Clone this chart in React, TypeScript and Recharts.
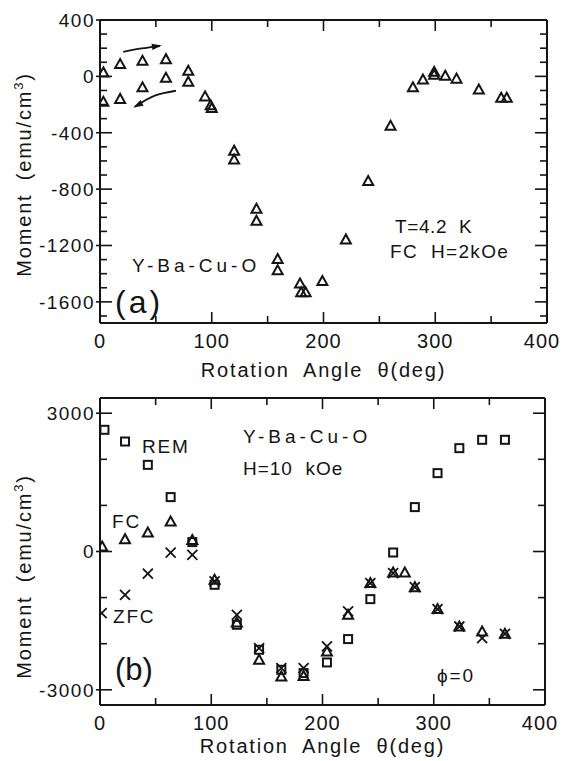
import React from 'react';
import { ComposedChart, Scatter, Line, XAxis, YAxis } from 'recharts';

const FONT = '"Liberation Sans", Arial, Helvetica, sans-serif';
const INK = '#141414';

// ---------- shared axis ticks ----------
const xTicks = [0, 50, 100, 150, 200, 250, 300, 350, 400];
const xLabels = [0, 100, 200, 300, 400];

// ---------- panel (a): FC, H=2kOe, T=4.2K ----------
const aAngle = [3, 3, 18, 18, 38, 38, 59, 59, 79, 79, 94, 99, 100, 120, 120, 140, 140, 159, 159, 179, 180, 184, 199, 220, 240, 260, 280, 289, 299, 299, 309, 319, 339, 359, 364];
const aMoment = [28, -180, 87, -160, 110, -78, 122, -10, 40, -38, -142, -205, -225, -527, -590, -940, -1025, -1296, -1376, -1470, -1532, -1532, -1452, -1157, -742, -350, -78, -22, 32, 12, 4, -16, -93, -152, -152];
const aYTicks = [-1700, -1600, -1500, -1400, -1300, -1200, -1100, -1000, -900, -800, -700, -600, -500, -400, -300, -200, -100, 0, 100, 200, 300, 400];
const aYLabels = [400, 0, -400, -800, -1200, -1600];
const aYDomain = [-1750, 400];
// arrows (data coordinates)
const arrowUpAngle = [20.8, 37.2, 53.6];
const arrowUpMoment = [174, 198, 217];
const arrowDownAngle = [67.9, 49, 31.3];
const arrowDownMoment = [-102, -137, -215];

// annotations of panel (a), anchored in data coordinates
const aNoteText = ['Y-Ba-Cu-O', '(a)', 'T=4.2  K', 'FC  H=2kOe'];
const aNoteAngle = [28.6, 13.4, 264, 259.5];
const aNoteMoment = [-1388, -1680, -1112, -1289];

// ---------- panel (b): H=10 kOe, phi=0 ----------
const bAngle = [4, 22.5, 43, 63.5, 83, 103, 123, 143, 163, 183, 204, 223, 243, 263.5, 283, 303.4, 323, 343.5, 364];
const bREM = [2640, 2386, 1880, 1180, 204, -722, -1590, -2132, -2566, -2638, -2407, -1900, -1033, -22, 963, 1700, 2242, 2423, 2423];
const bFCAngle = [2, 22.5, 43, 63.5, 83, 103, 123, 143, 163, 183, 204, 223, 243, 263.5, 274, 283, 303.4, 323, 343.5, 364];
const bFC = [108, 268, 412, 651, 250, -614, -1540, -2350, -2711, -2700, -2169, -1373, -686, -455, -455, -773, -1250, -1627, -1735, -1785];
const bZFCAngle = [1.5, 22.5, 43, 63.5, 83, 103, 123, 143, 163, 183, 204, 223, 243, 263.5, 283, 303.4, 323, 343.5, 364];
const bZFC = [-1336, -939, -480, -22, -72, -650, -1373, -2096, -2530, -2530, -2060, -1300, -686, -470, -773, -1250, -1627, -1880, -1785];
const bYTicks = [-3000, -2000, -1000, 0, 1000, 2000, 3000];
const bYLabels = [3000, 0, -3000];
const bYDomain = [-3330, 3330];

const bNoteText = ['REM', 'Y-Ba-Cu-O', 'H=10  kOe', 'FC', 'ZFC', '(b)', 'ϕ=0'];
const bNoteAngle = [37.8, 128.5, 128.5, 10.8, 11.7, 13.5, 303];
const bNoteMoment = [2141, 2358, 1664, 514, -1547, -2783, -2826];

// text styles per annotation
const noteStyle: Record<string, { size: number; ls: number }> = {
  'Y-Ba-Cu-O': { size: 19, ls: 4 },
  '(a)': { size: 32, ls: 3 },
  '(b)': { size: 31, ls: 0 },
  'T=4.2  K': { size: 19, ls: 0.6 },
  'FC  H=2kOe': { size: 19, ls: 1.3 },
  'H=10  kOe': { size: 19, ls: 1 },
  REM: { size: 19, ls: 1.8 },
  FC: { size: 19, ls: 1.8 },
  ZFC: { size: 19, ls: 1.8 },
  'ϕ=0': { size: 19, ls: 1.8 },
};

const zip = (xs: number[], ys: number[]) => xs.map((x, i) => ({ x, y: ys[i] }));
const notes = (t: string[], xs: number[], ys: number[]) => t.map((text, i) => ({ x: xs[i], y: ys[i], text }));

// ---------- markers ----------
const Tri = (p: any) => {
  const { cx, cy } = p;
  if (cx == null || cy == null) return <g />;
  const s = 5;
  return (
    <polygon
      points={`${cx},${cy - s} ${cx - s},${cy + s * 0.8} ${cx + s},${cy + s * 0.8}`}
      fill="none"
      stroke={INK}
      strokeWidth={2}
    />
  );
};
const Sq = (p: any) => {
  const { cx, cy } = p;
  if (cx == null || cy == null) return <g />;
  const s = 4;
  return <rect x={cx - s} y={cy - s} width={2 * s} height={2 * s} fill="none" stroke={INK} strokeWidth={2} />;
};
const Cross = (p: any) => {
  const { cx, cy } = p;
  if (cx == null || cy == null) return <g />;
  const s = 5;
  return (
    <path d={`M${cx - s},${cy - s}L${cx + s},${cy + s}M${cx - s},${cy + s}L${cx + s},${cy - s}`} stroke={INK} strokeWidth={1.8} fill="none" />
  );
};
const Note = (p: any) => {
  const { cx, cy, payload } = p;
  if (cx == null || cy == null) return <g />;
  const st = noteStyle[payload.text] || { size: 19, ls: 1.5 };
  return (
    <text x={cx} y={cy} fill={INK} fontFamily={FONT} fontSize={st.size} letterSpacing={st.ls} style={{ whiteSpace: 'pre' }}>
      {payload.text}
    </text>
  );
};

const arrowDot = (dir: number, n: number) => (p: any) => {
  if (p.index !== n - 1) return <g key={p.index} />;
  return (
    <polygon key={p.index} points="2,0 -8,-3.2 -8,3.2" fill={INK} transform={`translate(${p.cx},${p.cy}) rotate(${dir})`} />
  );
};

// ---------- ticks ----------
const bottomTick = (labels: number[]) => (p: any) => {
  const v = p.payload.value;
  const major = labels.includes(v);
  const y = p.y - 1;
  const last = v === labels[labels.length - 1];
  return (
    <g>
      <line x1={p.x} x2={p.x} y1={y} y2={y - (major ? 10 : 6)} stroke={INK} strokeWidth={1.6} />
      {major && (
        <text x={p.x - (last ? 5 : 0)} y={y + 26} textAnchor="middle" fill={INK} fontFamily={FONT} fontSize={20} letterSpacing={1}>
          {v}
        </text>
      )}
    </g>
  );
};
const topTick = (labels: number[]) => (p: any) => {
  const major = labels.includes(p.payload.value);
  const y = p.y + 1;
  return <line x1={p.x} x2={p.x} y1={y} y2={y + (major ? 10 : 6)} stroke={INK} strokeWidth={1.6} />;
};
const leftTick = (labels: number[]) => (p: any) => {
  const v = p.payload.value;
  const major = labels.includes(v);
  return (
    <g>
      <line x1={p.x - (major ? 4 : 0)} x2={p.x + (major ? 12 : 7)} y1={p.y} y2={p.y} stroke={INK} strokeWidth={1.6} />
      {major && (
        <text x={p.x - 5} y={p.y + 6.8} textAnchor="end" fill={INK} fontFamily={FONT} fontSize={19} letterSpacing={1.5}>
          {v < 0 ? '-' + Math.abs(v) : v}
        </text>
      )}
    </g>
  );
};
const rightTick = (labels: number[]) => (p: any) => {
  const major = labels.includes(p.payload.value);
  return <line x1={p.x} x2={p.x - (major ? 12 : 7)} y1={p.y} y2={p.y} stroke={INK} strokeWidth={1.6} />;
};

const xTitle = (drop: number) => (props: any) => {
  const vb = props.viewBox;
  return (
    <text x={vb.x + vb.width / 2} y={vb.y + drop} textAnchor="middle" fill={INK} fontFamily={FONT} fontSize={20} letterSpacing={1.8} wordSpacing={7}>
      Rotation Angle θ(deg)
    </text>
  );
};
const yTitle = (shift: number) => (props: any) => {
  const vb = props.viewBox;
  const cx = 31;
  const cy = vb.y + vb.height / 2 + shift;
  return (
    <text x={cx} y={cy} transform={`rotate(-90, ${cx}, ${cy})`} textAnchor="middle" fill={INK} fontFamily={FONT} fontSize={20} letterSpacing={1.8} wordSpacing={6}>
      Moment (emu/cm<tspan dy={-8} fontSize={13}>3</tspan>
      <tspan dy={8}>)</tspan>
    </text>
  );
};

type PanelProps = {
  top: number;
  height: number;
  margin: { top: number; right: number; bottom: number; left: number };
  yDomain: number[];
  yTicks: number[];
  yLabels: number[];
  titleShift: number;
  titleDrop: number;
  children: React.ReactNode;
};

const Panel = ({ top, height, margin, yDomain, yTicks, yLabels, titleShift, titleDrop, children }: PanelProps) => (
  <div style={{ position: 'absolute', left: 0, top, width: 563, height }}>
    <ComposedChart width={563} height={height} margin={margin}>
      <XAxis
        xAxisId="b"
        dataKey="x"
        type="number"
        domain={[0, 400]}
        allowDataOverflow
        ticks={xTicks}
        interval={0}
        height={1}
        tickSize={0}
        tickMargin={0}
        axisLine={{ stroke: INK, strokeWidth: 2 }}
        tickLine={false}
        tick={bottomTick(xLabels)}
        label={{ content: xTitle(titleDrop) }}
      />
      <XAxis
        xAxisId="t"
        orientation="top"
        dataKey="x"
        type="number"
        domain={[0, 400]}
        allowDataOverflow
        ticks={xTicks}
        interval={0}
        height={1}
        tickSize={0}
        tickMargin={0}
        axisLine={{ stroke: INK, strokeWidth: 2 }}
        tickLine={false}
        tick={topTick(xLabels)}
      />
      <YAxis
        yAxisId="l"
        dataKey="y"
        type="number"
        domain={yDomain}
        allowDataOverflow
        ticks={yTicks}
        interval={0}
        width={1}
        tickSize={0}
        tickMargin={0}
        axisLine={{ stroke: INK, strokeWidth: 2 }}
        tickLine={false}
        tick={leftTick(yLabels)}
        label={{ content: yTitle(titleShift) }}
      />
      <YAxis
        yAxisId="r"
        orientation="right"
        dataKey="y"
        type="number"
        domain={yDomain}
        allowDataOverflow
        ticks={yTicks}
        interval={0}
        width={1}
        tickSize={0}
        tickMargin={0}
        axisLine={{ stroke: INK, strokeWidth: 2 }}
        tickLine={false}
        tick={rightTick(yLabels)}
      />
      <Scatter xAxisId="t" yAxisId="r" data={[]} isAnimationActive={false} />
      {children}
    </ComposedChart>
  </div>
);

export default function App() {
  const aPts = zip(aAngle, aMoment);
  const up = zip(arrowUpAngle, arrowUpMoment);
  const down = zip(arrowDownAngle, arrowDownMoment);
  return (
    <div style={{ position: 'absolute', left: 0, top: 0, width: 563, height: 761, background: '#fff', overflow: 'hidden' }}>
      <Panel top={0} height={385} margin={{ top: 19, right: 15, bottom: 61, left: 99 }} yDomain={aYDomain} yTicks={aYTicks} yLabels={aYLabels} titleShift={3} titleDrop={54}>
        <Scatter xAxisId="b" yAxisId="l" data={aPts} shape={Tri} isAnimationActive={false} />
        <Line xAxisId="b" yAxisId="l" data={up} dataKey="y" type="natural" stroke={INK} strokeWidth={1.8} dot={arrowDot(-8, up.length)} activeDot={false} isAnimationActive={false} />
        <Line xAxisId="b" yAxisId="l" data={down} dataKey="y" type="natural" stroke={INK} strokeWidth={1.8} dot={arrowDot(152, down.length)} activeDot={false} isAnimationActive={false} />
        <Scatter xAxisId="b" yAxisId="l" data={notes(aNoteText, aNoteAngle, aNoteMoment)} shape={Note} isAnimationActive={false} />
      </Panel>
      <Panel top={385} height={376} margin={{ top: 12, right: 17, bottom: 55, left: 99 }} yDomain={bYDomain} yTicks={bYTicks} yLabels={bYLabels} titleShift={25} titleDrop={48}>
        <Scatter xAxisId="b" yAxisId="l" data={zip(bAngle, bREM)} shape={Sq} isAnimationActive={false} />
        <Scatter xAxisId="b" yAxisId="l" data={zip(bFCAngle, bFC)} shape={Tri} isAnimationActive={false} />
        <Scatter xAxisId="b" yAxisId="l" data={zip(bZFCAngle, bZFC)} shape={Cross} isAnimationActive={false} />
        <Scatter xAxisId="b" yAxisId="l" data={notes(bNoteText, bNoteAngle, bNoteMoment)} shape={Note} isAnimationActive={false} />
      </Panel>
    </div>
  );
}
